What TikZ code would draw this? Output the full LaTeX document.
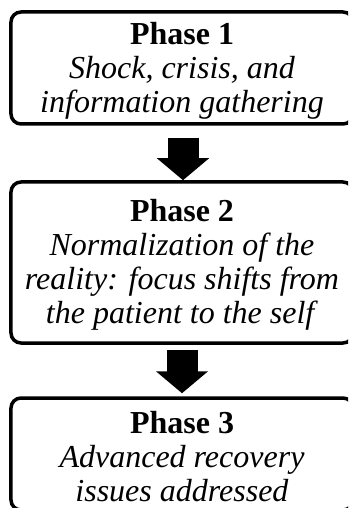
\documentclass[tikz,border=0pt]{standalone}
\usepackage{fontspec}
\setmainfont{Liberation Serif}
\usetikzlibrary{arrows.meta}
\newcommand{\toproom}{\rule{0pt}{27bp}}
\begin{document}
\begin{tikzpicture}[x=1bp,y=-1bp,
  phasebox/.style={draw=black, line width=3.5bp, rounded corners=10bp,
    inner sep=0pt, minimum width=342bp, align=center,
    font=\fontsize{32bp}{34bp}\selectfont},
  blockarrow/.style={draw=black, line width=31bp,
    -{Triangle[length=22bp,width=51bp]}}]
\useasboundingbox (0,0) rectangle (348,508);
\clip (0,0) rectangle (348,508);
% the three phases
\node[phasebox, minimum height=112bp] (p1) at (182,68)
  {\toproom\textbf{Phase 1}\\\textit{Shock, crisis, and}\\\textit{information gathering}};
\node[phasebox, minimum height=161bp] (p2) at (182,262.5)
  {\toproom\textbf{Phase 2}\\\textit{Normalization of the}\\\textit{reality: focus shifts from}\\\textit{the patient to the self}};
\node[phasebox, minimum height=112bp] (p3) at (182,454)
  {\toproom\textbf{Phase 3}\\\textit{Advanced recovery}\\\textit{issues addressed}};
% block arrows between phases
\draw[blockarrow] ([xshift=1bp,yshift=-12bp]p1.south) -- ([xshift=1bp]p2.north);
\draw[blockarrow] ([yshift=-5bp]p2.south) -- ([yshift=3bp]p3.north);
\end{tikzpicture}
\end{document}
